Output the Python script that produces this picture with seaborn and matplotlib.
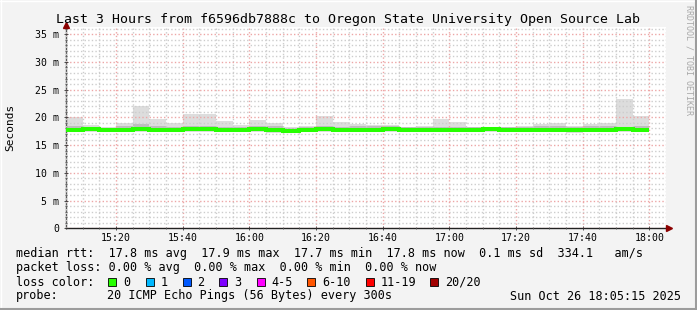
import numpy as np
import pandas as pd
import matplotlib
matplotlib.use("Agg")
import matplotlib.pyplot as plt
from matplotlib.patches import Rectangle
from matplotlib.lines import Line2D
import seaborn as sns

# ---------------- data ----------------
# 5-minute intervals, minutes after 15:00 (interval start), last entry = end of last interval
interval_edges_min = list(range(5, 181, 5))
smoke_max = [20.0, 18.6, 18.2, 18.9, 22.0, 19.7, 18.9, 20.6, 20.6, 19.3, 18.6, 19.5,
             18.9, 18.2, 18.5, 20.3, 19.1, 18.8, 18.6, 18.6, 18.3, 18.4, 19.7, 19.1,
             18.3, 18.1, 18.3, 18.4, 18.8, 18.9, 18.4, 18.8, 18.9, 23.3, 20.2]
smoke_hi = [18.4, 18.3, 18.1, 18.4, 18.8, 18.4, 18.3, 18.5, 18.4, 18.3, 18.2, 18.4,
            18.4, 18.0, 18.2, 18.5, 18.3, 18.4, 18.4, 18.4, 18.2, 18.3, 18.3, 18.2,
            18.2, 18.1, 18.2, 18.3, 18.4, 18.5, 18.2, 18.4, 18.5, 18.3, 18.4]
median_rtt = [17.8, 17.9, 17.8, 17.8, 17.9, 17.8, 17.8, 17.9, 17.9, 17.8, 17.8, 17.9,
              17.7, 17.6, 17.8, 17.9, 17.8, 17.8, 17.8, 17.9, 17.8, 17.8, 17.8, 17.8,
              17.8, 17.9, 17.8, 17.8, 17.8, 17.8, 17.7, 17.8, 17.8, 17.9, 17.8]
smoke_lo = [17.5, 17.5, 17.5, 17.5, 17.5, 17.5, 17.5, 17.5, 17.5, 17.5, 17.5, 17.5,
            17.4, 17.3, 17.5, 17.5, 17.5, 17.5, 17.5, 17.5, 17.5, 17.5, 17.5, 17.5,
            17.5, 17.5, 17.5, 17.5, 17.5, 17.5, 17.4, 17.5, 17.5, 17.5, 17.5]
smoke_min = [17.3, 17.4, 17.4, 17.3, 17.3, 17.4, 17.3, 17.3, 17.3, 17.4, 17.4, 17.3,
             17.2, 17.1, 17.3, 17.3, 17.4, 17.3, 17.3, 17.3, 17.4, 17.4, 17.3, 17.4,
             17.4, 17.4, 17.4, 17.3, 17.3, 17.3, 17.2, 17.3, 17.3, 17.3, 17.3]

x_major_ticks = [20, 40, 60, 80, 100, 120, 140, 160, 180]
x_major_labels = ["15:20", "15:40", "16:00", "16:20", "16:40", "17:00", "17:20", "17:40", "18:00"]
y_ticks = [0, 5, 10, 15, 20, 25, 30, 35]
y_labels = ["0", "5 m", "10 m", "15 m", "20 m", "25 m", "30 m", "35 m"]

title = "Last 3 Hours from f6596db7888c to Oregon State University Open Source Lab"
legend_rtt = "median rtt:  17.8 ms avg  17.9 ms max  17.7 ms min  17.8 ms now  0.1 ms sd  334.1   am/s"
legend_loss = "packet loss: 0.00 % avg  0.00 % max  0.00 % min  0.00 % now"
loss_labels = ["0", "1", "2", "3", "4-5", "6-10", "11-19", "20/20"]
loss_colors = ["#26ff00", "#00b8ff", "#0059ff", "#7e00ff", "#ff00ff", "#ff5500", "#ff0000", "#a10000"]
probe_text = "20 ICMP Echo Pings (56 Bytes) every 300s"
date_text = "Sun Oct 26 18:05:15 2025"

# ---------------- style ----------------
sns.set_theme(style="white")
plt.rcParams["font.family"] = ["DejaVu Sans Mono"]

W, H = 697, 310
fig = plt.figure(figsize=(W / 100, H / 100), dpi=100, facecolor="#f3f3f3")

def fx(px):
    return px / W

def fy(py):
    return (H - py) / H

x0, x1, ytop, ybot = 66, 666, 27, 228.3
ax = fig.add_axes([fx(x0), fy(ybot), fx(x1 - x0), (ybot - ytop) / H])
ax.set_facecolor("white")

edges = np.array(interval_edges_min, dtype=float)
ax.stairs(smoke_max, edges, baseline=smoke_min, fill=True, color="#dddddd", lw=0, zorder=1)
ax.stairs(smoke_hi, edges, baseline=smoke_lo, fill=True, color="#bdbdbd", lw=0, zorder=1.1)

df = pd.DataFrame({"t": edges, "median": median_rtt + [median_rtt[-1]]})
sns.lineplot(data=df, x="t", y="median", ax=ax, color="#26ff00", lw=2.9,
             drawstyle="steps-post", estimator=None, zorder=3)
for l in ax.get_lines():
    l.set_solid_joinstyle("miter")
    l.set_solid_capstyle("butt")

ax.set_xlim(5, 185)
ax.set_ylim(0, 36.3)
ax.set_xticks(x_major_ticks)
ax.set_xticklabels(x_major_labels)
ax.set_xticks(list(range(5, 186, 5)), minor=True)
ax.set_yticks(y_ticks)
ax.set_yticklabels(y_labels)
ax.set_yticks(list(range(0, 37)), minor=True)
ax.set_axisbelow(False)
ax.grid(which="minor", color="#cdcdcd", linestyle=(0, (1, 1.6)), lw=1.0, zorder=2)
ax.grid(which="major", color="#eda6a6", linestyle=(0, (1, 1.6)), lw=1.0, zorder=2)
ax.set_xlabel("")
ax.set_ylabel("")
ax.tick_params(axis="both", which="major", labelsize=7.1, length=3, width=0.6,
               direction="inout", color="#333333", pad=3.5)
ax.tick_params(axis="x", which="major", pad=2.2)
ax.tick_params(axis="both", which="minor", length=2, width=0.6, direction="inout", color="#555555")
ax.tick_params(axis="x", which="both", bottom=True)
ax.tick_params(axis="y", which="both", left=True)
for lab in ax.get_xticklabels() + ax.get_yticklabels():
    lab.set_color("#000000")

for s in ["top", "right"]:
    ax.spines[s].set_visible(False)
ax.spines["left"].set_color("#555555")
ax.spines["left"].set_linewidth(1.0)
ax.spines["bottom"].set_color("#222222")
ax.spines["bottom"].set_linewidth(1.0)
# axis arrows
ax.plot([0], [1.0 + 2 / (ybot - ytop)], marker="^", color="#8b0000", ms=4,
        transform=ax.transAxes, clip_on=False, zorder=5)
ax.add_line(Line2D([0, 0], [1.0, 1.0 + 2 / (ybot - ytop)], transform=ax.transAxes,
                   color="#555555", lw=1.0, clip_on=False))
ax.plot([1.0 + 3 / (x1 - x0)], [0], marker=">", color="#8b0000", ms=4,
        transform=ax.transAxes, clip_on=False, zorder=5)
ax.add_line(Line2D([1.0, 1.0 + 3 / (x1 - x0)], [0, 0], transform=ax.transAxes,
                   color="#222222", lw=1.0, clip_on=False))

# ---------------- texts ----------------
fig.text(0.5, fy(19), title, ha="center", va="center", fontsize=9.5, color="#000000")
fig.text(fx(10), fy(127), "Seconds", rotation=90, ha="center", va="center", fontsize=8, color="#000000")
fig.text(fx(689), fy(60), "RRDTOOL / TOBI OETIKER", rotation=-90, ha="center", va="center",
         fontsize=6, color="#a8a8a8")

FS = 8.5
lx = fx(16)
fig.text(lx, fy(254), legend_rtt, ha="left", va="center", fontsize=FS, color="#000000")
fig.text(lx, fy(268), legend_loss, ha="left", va="center", fontsize=FS, color="#000000")
fig.text(lx, fy(282), "loss color:", ha="left", va="center", fontsize=FS, color="#000000")
fig.text(lx, fy(296), "probe:", ha="left", va="center", fontsize=FS, color="#000000")
fig.text(fx(107), fy(296), probe_text, ha="left", va="center", fontsize=FS, color="#000000")
fig.text(fx(681), fy(296), date_text, ha="right", va="center", fontsize=FS, color="#000000")

square_x = [108, 145.5, 182.5, 219, 256.5, 307, 366, 430]
for sx, lab, col in zip(square_x, loss_labels, loss_colors):
    fig.add_artist(Rectangle((fx(sx), fy(286.3)), 8 / W, 8 / H, transform=fig.transFigure,
                             facecolor=col, edgecolor="#000000", lw=0.6))
    fig.text(fx(sx + 15), fy(282), lab, ha="left", va="center", fontsize=FS, color="#000000")

# 3D border
fig.add_artist(Line2D([0, 1], [fy(0.5), fy(0.5)], transform=fig.transFigure, color="#ffffff", lw=1))
fig.add_artist(Line2D([fx(0.5), fx(0.5)], [0, 1], transform=fig.transFigure, color="#ffffff", lw=1))
fig.add_artist(Line2D([0, 1], [fy(309), fy(309)], transform=fig.transFigure, color="#9c9c9c", lw=1.5))
fig.add_artist(Line2D([fx(696), fx(696)], [0, 1], transform=fig.transFigure, color="#9c9c9c", lw=1.5))

fig.savefig("out.png", dpi=100, facecolor=fig.get_facecolor())
